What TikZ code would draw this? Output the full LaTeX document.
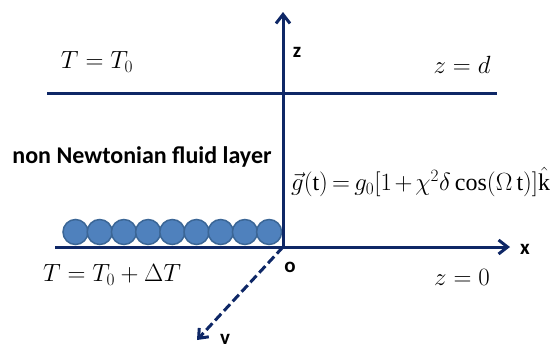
\documentclass[tikz,border=0pt]{standalone}
\usepackage{fontspec}
\setmainfont{Liberation Serif}
\newfontfamily\labfont{Carlito}
\usetikzlibrary{arrows.meta}
\definecolor{navy}{HTML}{0E2766}
\definecolor{ballfill}{HTML}{4F81BD}
\definecolor{balledge}{HTML}{3B6696}
\tikzset{
  axisline/.style={draw=navy, line width=3pt},
  axisarrow/.style={axisline, -{Straight Barb[length=9pt,width=14pt,line width=3pt]}},
  ball/.style={circle, draw=balledge, fill=ballfill, line width=1.5pt, minimum size=25pt, inner sep=0pt},
  lab/.style={font=\labfont\bfseries\fontsize{21}{21}\selectfont, text=black, inner sep=0pt},
  eq/.style={font=\fontsize{25}{25}\selectfont, text=black, inner sep=0pt},
}
\begin{document}
\begin{tikzpicture}[x=1pt,y=-1pt]
\useasboundingbox (0,0) rectangle (560,349);
% coordinates
\coordinate (O) at (283,247);
\coordinate (ztip) at (283,12);
\coordinate (xstart) at (55,247);
\coordinate (xtip) at (510,247);
\coordinate (topL) at (47,93);
\coordinate (topR) at (497,93);
\coordinate (vtip) at (197,340);
% balls
\foreach \i in {0,...,8} {
  \node[ball] (b\i) at ({75.5+24.2*\i},232) {};
}
% lines
\draw[axisline] (topL) -- (topR);
\draw[axisarrow] (xstart) -- (xtip);
\draw[axisarrow] (O) -- (ztip);
\draw[axisline, dash pattern=on 9pt off 4pt, -{Straight Barb[length=8pt,width=13pt,line width=3pt]}] (O) -- (vtip);
% labels
\node[lab] (zl) at (297,52) {z};
\node[lab] (xl) at (525,249) {x};
\node[lab] (ol) at (290,267) {o};
\node[lab] (vl) at (225,339) {v};
\node[lab, font=\labfont\bfseries\fontsize{24}{24}\selectfont] (fluid) at (142,157) {non Newtonian fluid layer};
\node[eq] (ttop) at (97,62) {$T=T_0$};
\node[eq] (tbot) at (112,275) {$T=T_0+\Delta T$};
\node[eq] (zd) at (462,65) {$z=d$};
\node[eq] (z0) at (462,277) {$z=0$};
\node[eq, font=\fontsize{24}{24}\selectfont, anchor=west] (geq) at (291,182) {\medmuskip=2mu\thickmuskip=3mu$\vec{g}(\mathrm{t})=g_0[1+\chi^2\delta\cos(\Omega\,\mathrm{t})]\hat{\mathrm{k}}$};
\end{tikzpicture}
\end{document}
